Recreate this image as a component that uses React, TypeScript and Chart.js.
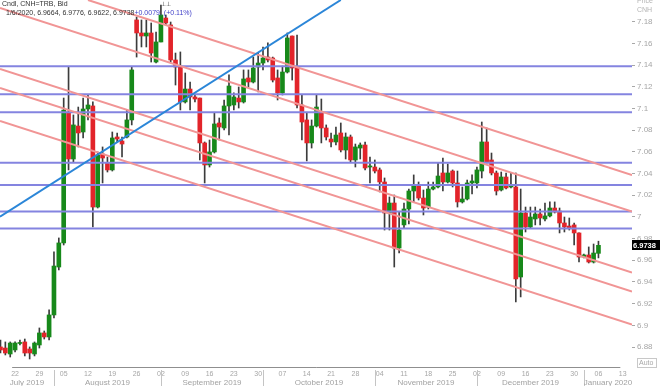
import React, { useEffect, useRef } from 'react';
import { Chart, registerables } from 'chart.js';

Chart.register(...registerables);

// ---- daily candles (17 Jul 2019 .. 6 Jan 2020), index = trading day ----
const openP = [
  6.8801, 6.8791, 6.8736, 6.8773, 6.8833, 6.8847, 6.8782, 6.8736, 6.8819, 6.8930,
  6.8893, 6.9096, 6.9538, 6.9760, 7.0967, 7.0534, 7.0838, 7.0783, 7.0995, 7.1023,
  7.0091, 7.0580, 7.0497, 7.0433, 7.0737, 7.0700, 7.0737, 7.0894, 7.1816, 7.1696,
  7.1668, 7.1696, 7.1428, 7.1613, 7.1834, 7.1770, 7.1447, 7.1382, 7.1060, 7.1179,
  7.1106, 7.1096, 7.0682, 7.0479, 7.0599, 7.0866, 7.0820, 7.1023, 7.1032, 7.1096,
  7.1060, 7.1281, 7.1244, 7.1382, 7.1419, 7.1474, 7.1465, 7.1281, 7.1143, 7.1336,
  7.1668, 7.1382, 7.1032, 7.0894, 7.0682, 7.0838, 7.0967, 7.0820, 7.0718, 7.0691,
  7.0774, 7.0617, 7.0737, 7.0525, 7.0635, 7.0663, 7.0460, 7.0460, 7.0433, 7.0322,
  7.0036, 7.0128, 6.9713, 6.9926, 7.0073, 7.0239, 7.0294, 7.0174, 7.0091, 7.0257,
  7.0276, 7.0405, 7.0322, 7.0423, 7.0313, 7.0138, 7.0165, 7.0313, 7.0313, 7.0423,
  7.0691, 7.0525, 7.0405, 7.0248, 7.0368, 7.0276, 7.0276, 6.9446, 7.0036, 6.9907,
  6.9981, 7.0027, 6.9981, 7.0009, 7.0082, 7.0054, 6.9944, 6.9916, 6.9926, 6.9852,
  6.9630, 6.9649, 6.9584, 6.9664,
];
const highP = [
  6.8865, 6.8847, 6.8847, 6.8847, 6.8865, 6.8874, 6.8801, 6.8847, 6.8976, 6.8948,
  6.9142, 6.9677, 6.9806, 7.1096, 7.1382, 7.0940, 7.1013, 7.1096, 7.1124, 7.1060,
  7.0599, 7.0645, 7.0552, 7.0783, 7.0774, 7.0737, 7.0986, 7.1382, 7.1843, 7.1816,
  7.1816, 7.1788, 7.1705, 7.1954, 7.1862, 7.1797, 7.1511, 7.1521, 7.1327, 7.1244,
  7.1124, 7.1096, 7.0691, 7.0709, 7.0958, 7.0912, 7.1078, 7.1309, 7.1143, 7.1198,
  7.1355, 7.1355, 7.1474, 7.1511, 7.1567, 7.1604, 7.1474, 7.1355, 7.1391, 7.1696,
  7.1668, 7.1677, 7.1124, 7.0958, 7.0894, 7.1124, 7.1087, 7.0848, 7.0774, 7.0829,
  7.0866, 7.0774, 7.0755, 7.0672, 7.0682, 7.0691, 7.0552, 7.0525, 7.0451, 7.0359,
  7.0184, 7.0202, 7.0045, 7.0128, 7.0257, 7.0387, 7.0322, 7.0248, 7.0322, 7.0322,
  7.0497, 7.0543, 7.0488, 7.0433, 7.0423, 7.0276, 7.0340, 7.0387, 7.0460, 7.0875,
  7.0820, 7.0589, 7.0423, 7.0414, 7.0405, 7.0405, 7.0405, 7.0257, 7.0091, 7.0091,
  7.0091, 7.0073, 7.0128, 7.0138, 7.0138, 7.0082, 6.9999, 6.9990, 6.9944, 6.9852,
  6.9658, 6.9723, 6.9750, 6.9776,
];
const lowP = [
  6.8745, 6.8727, 6.8708, 6.8755, 6.8819, 6.8718, 6.8690, 6.8718, 6.8791, 6.8874,
  6.8865, 6.9068, 6.9511, 6.9741, 7.0433, 7.0506, 7.0645, 7.0728, 7.0894, 6.9907,
  7.0082, 7.0313, 7.0414, 7.0423, 7.0691, 7.0552, 7.0728, 7.0848, 7.1474, 7.1567,
  7.1567, 7.1428, 7.1419, 7.1613, 7.1770, 7.1428, 7.1216, 7.0986, 7.1050, 7.0986,
  7.1060, 7.0525, 7.0313, 7.0460, 7.0589, 7.0709, 7.0801, 7.0755, 7.0986, 7.1004,
  7.1050, 7.1198, 7.1235, 7.1152, 7.1355, 7.1428, 7.1244, 7.1078, 7.1124, 7.1327,
  7.1262, 7.1004, 7.0709, 7.0516, 7.0635, 7.0829, 7.0682, 7.0709, 7.0645, 7.0663,
  7.0599, 7.0534, 7.0506, 7.0460, 7.0534, 7.0433, 7.0313, 7.0405, 7.0230, 6.9879,
  6.9879, 6.9538, 6.9667, 6.9898, 6.9935, 7.0138, 7.0156, 7.0018, 7.0073, 7.0248,
  7.0267, 7.0239, 7.0313, 7.0276, 7.0091, 7.0128, 7.0156, 7.0211, 7.0267, 7.0359,
  7.0497, 7.0387, 7.0202, 7.0239, 7.0257, 7.0267, 6.9216, 6.9262, 6.9861, 6.9898,
  6.9926, 6.9926, 6.9962, 6.9999, 7.0036, 6.9852, 6.9861, 6.9879, 6.9741, 6.9584,
  6.9621, 6.9575, 6.9575, 6.9622,
];
const closeP = [
  6.8773, 6.8745, 6.8837, 6.8837, 6.8842, 6.8745, 6.8745, 6.8837, 6.8930, 6.8893,
  6.9096, 6.9547, 6.9760, 7.0986, 7.0534, 7.0848, 7.0774, 7.0995, 7.1032, 7.0091,
  7.0571, 7.0543, 7.0433, 7.0728, 7.0718, 7.0672, 7.0894, 7.1355, 7.1696, 7.1668,
  7.1696, 7.1511, 7.1613, 7.1862, 7.1788, 7.1447, 7.1382, 7.1060, 7.1179, 7.1106,
  7.1087, 7.0682, 7.0479, 7.0599, 7.0857, 7.0829, 7.1023, 7.1207, 7.1106, 7.1060,
  7.1272, 7.1244, 7.1373, 7.1419, 7.1465, 7.1447, 7.1262, 7.1143, 7.1336, 7.1650,
  7.1373, 7.1032, 7.0875, 7.0682, 7.0838, 7.1013, 7.0820, 7.0737, 7.0691, 7.0755,
  7.0617, 7.0737, 7.0525, 7.0645, 7.0663, 7.0451, 7.0470, 7.0423, 7.0322, 7.0036,
  7.0128, 6.9713, 6.9879, 7.0073, 7.0239, 7.0294, 7.0174, 7.0082, 7.0257, 7.0276,
  7.0377, 7.0322, 7.0405, 7.0313, 7.0138, 7.0165, 7.0313, 7.0331, 7.0433, 7.0691,
  7.0506, 7.0405, 7.0239, 7.0368, 7.0267, 7.0285, 6.9428, 7.0036, 6.9907, 6.9999,
  7.0027, 6.9990, 7.0009, 7.0082, 7.0045, 6.9944, 6.9907, 6.9898, 6.9852, 6.9630,
  6.9649, 6.9584, 6.9667, 6.9738,
];

// ---- drawn studies ----
const hLevels = [7.139, 7.113, 7.0965, 7.05, 7.0295, 7.0049, 6.9892];
const trendIdx = [-0.1, 70];
const trendPrice = [7.0002, 7.2];
const channelStartIdx = [18, -0.1, -0.1, -0.1, -0.1];
const channelStartPrice = [7.2, 7.1926, 7.1364, 7.1189, 7.0884];
const channelEndPrice = [7.0385, 7.005, 6.9488, 6.9312, 6.9008];

// ---- axes ----
const X_MIN = -0.1;
const X_MAX = 129.9;
const Y_MIN = 6.8616;
const Y_MAX = 7.2;
const yTickValues = [7.18, 7.16, 7.14, 7.12, 7.1, 7.08, 7.06, 7.04, 7.02, 7.0, 6.98, 6.96, 6.94, 6.92, 6.9, 6.88];
const xTickIdx = [3, 8, 13, 18, 23, 28, 33, 38, 43, 48, 53, 58, 63, 68, 73, 78, 83, 88, 93, 98, 103, 108, 113, 118, 123, 128];
const xTickLabels = ['22', '29', '05', '12', '19', '26', '02', '09', '16', '23', '30', '07', '14', '21', '28', '04', '11', '18', '25', '02', '09', '16', '23', '30', '06', '13'];
const monthLabels = ['July 2019', 'August 2019', 'September 2019', 'October 2019', 'November 2019', 'December 2019', 'January 2020'];
const monthStartIdx = [X_MIN, 11, 33, 54, 77, 98, 120];

const headerTitle = 'Cndl, CNH=TRB, Bid';
const headerValues = '1/6/2020, 6.9664, 6.9776, 6.9622, 6.9738';
const headerChange = '+0.0079, (+0.11%)';

const FONT = "'Liberation Sans', Arial, sans-serif";
const GREEN = '#17891a';
const RED = '#e2242a';

const overlayPlugin = {
  id: 'overlay',
  afterDraw(chart: any) {
    const { ctx, chartArea } = chart;
    const x = chart.scales.x;
    const y = chart.scales.y;
    ctx.save();

    // x axis base line
    ctx.strokeStyle = '#8f8f8f';
    ctx.lineWidth = 1;
    ctx.beginPath();
    ctx.moveTo(x.getPixelForValue(2.4), chartArea.bottom + 0.5);
    ctx.lineTo(x.getPixelForValue(127.5), chartArea.bottom + 0.5);
    ctx.stroke();

    // month separators + labels
    const starts = monthStartIdx.map((v) => x.getPixelForValue(v));
    ctx.strokeStyle = '#c4c4c4';
    for (let i = 1; i < starts.length; i++) {
      const px = Math.round(starts[i]) + 0.5;
      ctx.beginPath();
      ctx.moveTo(px, chartArea.bottom + 3);
      ctx.lineTo(px, chartArea.bottom + 19);
      ctx.stroke();
    }
    ctx.font = `8px ${FONT}`;
    ctx.fillStyle = '#a2a2a2';
    ctx.textAlign = 'center';
    ctx.textBaseline = 'middle';
    for (let i = 0; i < monthLabels.length; i++) {
      const a = i === 0 ? chartArea.left : starts[i];
      const b = i + 1 < starts.length ? starts[i + 1] : chartArea.right;
      ctx.fillText(monthLabels[i], (a + b) / 2, chartArea.bottom + 15.5);
    }

    // right header "Price / CNH"
    ctx.textAlign = 'left';
    ctx.fillStyle = '#b4b4b4';
    ctx.font = `7px ${FONT}`;
    ctx.fillText('Price', chartArea.right + 5, 1.5);
    ctx.fillText('CNH', chartArea.right + 5, 10);

    // last price box
    const last = closeP.length - 1;
    const ly = y.getPixelForValue(closeP[last]);
    ctx.fillStyle = '#000';
    ctx.fillRect(chartArea.right, Math.round(ly) - 5, 28, 10);
    ctx.fillStyle = '#fff';
    ctx.font = `bold 7.5px ${FONT}`;
    ctx.fillText(closeP[last].toFixed(4), chartArea.right + 1, Math.round(ly) + 0.5);

    // Auto box
    ctx.strokeStyle = '#c8c8c8';
    ctx.strokeRect(chartArea.right + 5.5, chartArea.bottom - 8.5, 19, 9);
    ctx.fillStyle = '#a8a8a8';
    ctx.font = `7px ${FONT}`;
    ctx.fillText('Auto', chartArea.right + 7, chartArea.bottom - 3.5);

    // header
    ctx.font = `7px ${FONT}`;
    ctx.fillStyle = '#333';
    ctx.fillText(headerTitle, 2, 4.5);
    ctx.fillText(headerValues, 6, 13.5);
    const w = ctx.measureText(headerValues).width;
    ctx.fillStyle = '#3f3fc8';
    ctx.fillText(headerChange, 6 + w, 13.5);

    // event markers
    ctx.fillStyle = '#333';
    ctx.font = `6px ${FONT}`;
    ctx.fillText('⊥⊥', x.getPixelForValue(33), 4);

    ctx.restore();
  },
};

export default function App() {
  const ref = useRef<HTMLCanvasElement>(null);

  useEffect(() => {
    if (!ref.current) return;
    const idx = openP.map((_, i) => i);
    const up = idx.map((i) => closeP[i] >= openP[i]);

    const datasets: any[] = [];
    datasets.push({
      type: 'line',
      data: trendIdx.map((v, i) => ({ x: v, y: trendPrice[i] })),
      borderColor: '#2b86d8',
      borderWidth: 2,
      pointRadius: 0,
      tension: 0,
    });
    channelStartIdx.forEach((sx, k) => {
      datasets.push({
        type: 'line',
        data: [
          { x: sx, y: channelStartPrice[k] },
          { x: X_MAX, y: channelEndPrice[k] },
        ],
        borderColor: '#f19595',
        borderWidth: 2,
        pointRadius: 0,
        tension: 0,
      });
    });
    hLevels.forEach((v) => {
      datasets.push({
        type: 'line',
        data: [
          { x: X_MIN, y: v },
          { x: X_MAX, y: v },
        ],
        borderColor: '#8484e0',
        borderWidth: 2,
        pointRadius: 0,
        tension: 0,
      });
    });
    datasets.push({
      type: 'bar',
      data: idx.map((i) => ({ x: i, y: [openP[i], closeP[i]] })),
      backgroundColor: up.map((u) => (u ? GREEN : RED)),
      borderWidth: 0,
      barThickness: 4,
      minBarLength: 1,
      grouped: false,
    });
    datasets.push({
      type: 'bar',
      data: idx.map((i) => ({ x: i, y: [lowP[i], highP[i]] })),
      backgroundColor: '#3c3c3c',
      borderWidth: 0,
      barThickness: 1,
      minBarLength: 1,
      grouped: false,
    });

    const chart = new Chart(ref.current, {
      type: 'bar',
      data: { datasets },
      options: {
        animation: false,
        responsive: false,
        maintainAspectRatio: false,
        events: [],
        layout: { padding: 0, autoPadding: false },
        plugins: { legend: { display: false }, tooltip: { enabled: false } },
        scales: {
          x: {
            type: 'linear',
            min: X_MIN,
            max: X_MAX,
            offset: false,
            bounds: 'data',
            afterFit: (s: any) => {
              s.height = 19;
              s.paddingLeft = 0;
              s.paddingRight = 0;
            },
            afterBuildTicks: (s: any) => {
              s.ticks = xTickIdx.map((v) => ({ value: v }));
            },
            grid: { display: false, drawTicks: false },
            border: { display: false },
            ticks: {
              autoSkip: false,
              maxRotation: 0,
              padding: 3,
              color: '#a6a6a6',
              font: { size: 7, family: FONT },
              callback: (_v: any, i: number) => xTickLabels[i],
            },
          },
          y: {
            type: 'linear',
            position: 'right',
            min: Y_MIN,
            max: Y_MAX,
            bounds: 'data',
            afterFit: (s: any) => {
              s.width = 28;
              s.paddingTop = 0;
              s.paddingBottom = 0;
            },
            afterBuildTicks: (s: any) => {
              s.ticks = yTickValues.map((v) => ({ value: v }));
            },
            grid: { drawOnChartArea: false, drawTicks: true, tickLength: 3, tickColor: '#a8a8a8' },
            border: { display: false },
            ticks: {
              padding: 2,
              color: '#a6a6a6',
              font: { size: 8, family: FONT },
              callback: (v: any) => String(parseFloat(Number(v).toFixed(2))),
            },
          },
        },
      } as any,
      plugins: [overlayPlugin],
    });
    return () => chart.destroy();
  }, []);

  return (
    <div style={{ position: 'absolute', left: 0, top: 0, width: 660, height: 386, background: '#fff' }}>
      <canvas ref={ref} width={660} height={386} style={{ display: 'block' }} />
    </div>
  );
}
